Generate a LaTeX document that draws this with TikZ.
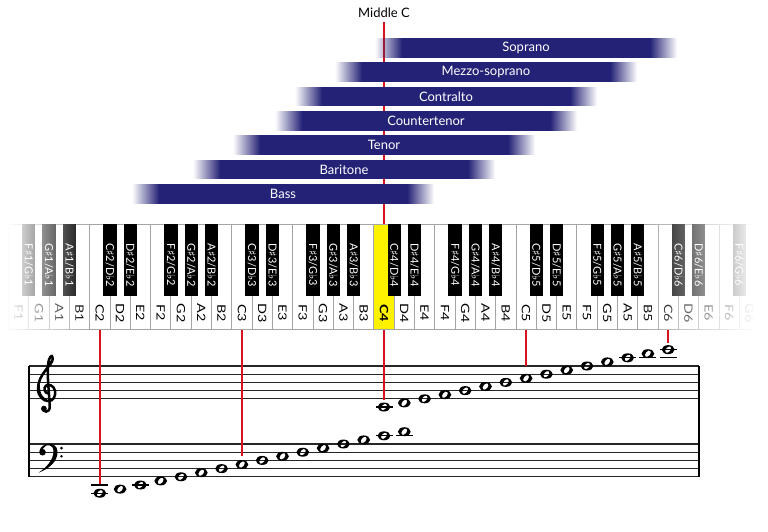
\documentclass[tikz,border=0pt]{standalone}
\usepackage{fontspec}
\setmainfont{Lato}
\newfontfamily\symf{DejaVu Sans}
\usetikzlibrary{fadings}
\definecolor{navy}{RGB}{36,34,118}
\definecolor{cred}{RGB}{214,20,30}
\definecolor{ckey}{RGB}{255,242,0}
\definecolor{kline}{RGB}{165,165,165}
\tikzfading[name=fadeL, left color=transparent!100, right color=transparent!0]
\tikzfading[name=fadeR, left color=transparent!0, right color=transparent!100]
\newcommand\lname[1]{\ifcase#1 C\or D\or E\or F\or G\or A\or B\fi}
\newcommand\shp{{\symf\char"266F}}
\newcommand\flt{{\symf\char"266D}}
\newcommand\wnote[2]{\fill[even odd rule] (#1,#2) ellipse [x radius=6.4, y radius=4.5] (#1,#2) ellipse [x radius=2.3, y radius=3.7, rotate=-40];}
\begin{document}
\begin{tikzpicture}[x=1pt,y=-1pt,
  redline/.style={draw=cred, line width=2},
  wlabel/.style={rotate=-90, inner sep=0, font=\fontsize{11.5}{12}\selectfont},
  blabel/.style={rotate=-90, inner sep=0, text=white, font=\fontsize{11}{12}\selectfont},
  vlabel/.style={inner sep=0, text=white, font=\fontsize{13}{15}\selectfont},
  staffline/.style={line width=1.1, draw=black!85},
  ledger/.style={line width=1.1, draw=black},
  barline/.style={line width=2.8, draw=black}]
\useasboundingbox (0,0) rectangle (768,531);
% Middle C line
\node[font=\fontsize{13}{15}\selectfont] (mc) at (384,13) {Middle C};
\coordinate (mctop) at (384,22);
\coordinate (c4top) at (384,224);
\draw[redline] (mctop) -- (c4top);
% voice bars
\foreach \nm/\L/\i in {Soprano/375/0, Mezzo-soprano/335/1, Contralto/295/2, Countertenor/275/3, Tenor/233/4, Baritone/193/5, Bass/132/6}{
  \pgfmathsetmacro\yt{38+24.35*\i}
  \fill[navy] (\L+26.5,\yt) rectangle (\L+275.5,\yt+19.5);
  \fill[navy, path fading=fadeL] (\L,\yt) rectangle (\L+27,\yt+19.5);
  \fill[navy, path fading=fadeR] (\L+275,\yt) rectangle (\L+302,\yt+19.5);
  \node[vlabel] (v\i) at (\L+151,\yt+9.75) {\nm};
}
% keyboard
\begin{scope}
\clip (0,0) rectangle (768,531);
\draw[kline, line width=0.8] (0,224) -- (8.45,224) (0,329) -- (8.45,329);
\foreach \k in {-18,...,18}{
  \pgfmathtruncatemacro\li{Mod(\k,7)}
  \pgfmathtruncatemacro\oc{4+round((\k-\li)/7)}
  \pgfmathsetmacro\xl{373.85+20.3*\k}
  \ifnum\k=0 \def\kf{ckey}\else\def\kf{white}\fi
  \draw[kline, fill=\kf, line width=0.8] (\xl,224) rectangle ++(20.3,105);
  \node[wlabel] (w\k) at (\xl+10.15,313) {\scalebox{1.25}[1]{\ifnum\k=0 \bfseries\fi\lname{\li}\oc}};
}
\foreach \k in {-18,...,17}{
  \pgfmathtruncatemacro\li{Mod(\k,7)}
  \pgfmathtruncatemacro\oc{4+round((\k-\li)/7)}
  \pgfmathtruncatemacro\lj{\li+1}
  \pgfmathsetmacro\xb{373.85+20.3*(\k+1)}
  \ifnum\li=2 \else\ifnum\li=6 \else
    \fill[black] (\xb-6.65,224) rectangle ++(13.3,72);
    \node[blabel] (b\k) at (\xb,265) {\lname{\li}\shp\oc/\lname{\lj}\flt\oc};
  \fi\fi
}
\fill[white] (-1,222) rectangle (5.2,331);
\fill[white, path fading=fadeR] (5,222) rectangle (90,331);
\fill[white, path fading=fadeL] (640,222) rectangle (756,331);
\fill[white] (755.8,222) rectangle (769,331);
\end{scope}
% staves
\foreach \y in {366,374.2,382.4,390.6,398.8,444,452.2,460.4,468.6,476.8}
  \draw[staffline] (29,\y) -- (699,\y);
\coordinate (bl1) at (29,366); \coordinate (bl2) at (29,476.8);
\coordinate (br1) at (699,366); \coordinate (br2) at (699,476.8);
\draw[barline] (bl1) -- (bl2);
\draw[barline] (br1) -- (br2);
% red lines below keyboard
\foreach \n/\x/\ye in {a/99.8/485, b/241.9/456, c/384/400, d/526.1/366, e/668.2/343}{
  \coordinate (rt\n) at (\x,330);
  \coordinate (rb\n) at (\x,\ye);
  \draw[redline] (rt\n) -- (rb\n);
}
% treble clef
\begin{scope}[shift={(47.5,390.6)}]
\draw[line width=2.5, line cap=round] (-4.5,17) .. controls (-5.5,22) and (2.5,23) .. (2.2,16) .. controls (1.8,4) and (-0.5,-14) .. (0.6,-26) .. controls (1.2,-33) and (4.5,-38) .. (5.2,-32) .. controls (5.8,-26) and (-9.5,-17) .. (-9.5,-2) .. controls (-9.5,6) and (-4,10.5) .. (1,10.5) .. controls (6,10.5) and (8.5,5) .. (7.5,0) .. controls (6.5,-5) and (1,-7) .. (-1.5,-5) .. controls (-4.5,-2.5) and (-3,2.5) .. (1,3);
\draw[line width=1.6] (-8.3,-6) .. controls (-9,3) and (-5,8) .. (-1,9.2);
\draw[line width=1.4] (4,-30) .. controls (2,-25) and (-4,-19) .. (-6.5,-13);
\fill (-3.6,18) circle (2.9);
\end{scope}
% bass clef
\begin{scope}[shift={(43,452.2)}]
\fill (-0.5,0) circle (3.3);
\fill (-3.5,-1) .. controls (-2.5,-10) and (14,-11.5) .. (14.5,-1) .. controls (15,10) and (5,17) .. (-4.5,20.5) .. controls (3,15.5) and (10.5,8) .. (10.5,-1) .. controls (10.5,-8) and (2.5,-9) .. (0.5,-4) -- cycle;
\fill (18.5,-4.1) circle (1.4) (18.5,4.1) circle (1.4);
\end{scope}
% treble notes
\foreach \k in {0,...,14}{
  \pgfmathsetmacro\nx{384+20.3*\k}
  \pgfmathsetmacro\ny{398.8-4.1*(\k-2)}
  \wnote{\nx}{\ny}
}
% bass notes
\foreach \k in {-14,...,1}{
  \pgfmathsetmacro\nx{384+20.3*\k}
  \pgfmathsetmacro\ny{476.8-4.1*(\k+10)}
  \wnote{\nx}{\ny}
}
% ledger lines
\foreach \x/\y in {384/407, 627.6/357.8, 647.9/357.8, 668.2/357.8, 668.2/349.6, 99.8/485, 99.8/493.2, 140.4/485, 384/435.8, 404.3/435.8}
  \draw[ledger] (\x-8.5,\y) -- (\x+8.5,\y);
\end{tikzpicture}
\end{document}
